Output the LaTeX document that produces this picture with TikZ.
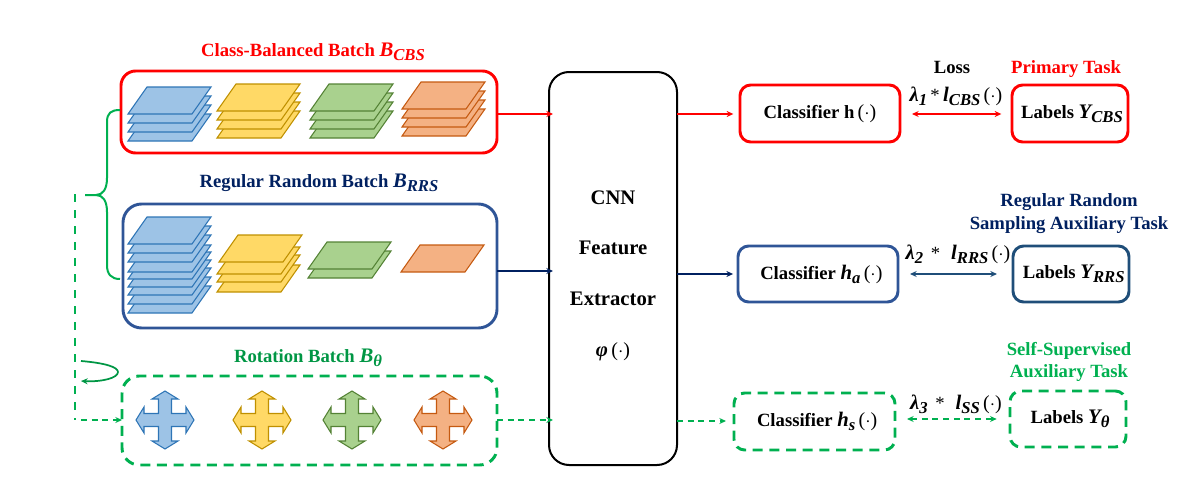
\documentclass[tikz,border=0pt]{standalone}
\usepackage{fontspec}
\setmainfont{Liberation Serif}
\usetikzlibrary{arrows.meta}
\definecolor{rd}{HTML}{FF0000}
\definecolor{navy}{HTML}{002060}
\definecolor{bbox}{HTML}{2F5597}
\definecolor{lbox}{HTML}{1F4E79}
\definecolor{grn}{HTML}{00B050}
\definecolor{bF}{HTML}{9DC3E6}\definecolor{bD}{HTML}{2E75B6}
\definecolor{yF}{HTML}{FFD966}\definecolor{yD}{HTML}{BF9000}
\definecolor{gF}{HTML}{A9D18E}\definecolor{gD}{HTML}{548235}
\definecolor{oF}{HTML}{F4B183}\definecolor{oD}{HTML}{C55A11}
\newcommand{\mi}[1]{{\fontsize{15.5}{16}\selectfont\bfseries\itshape #1}}
\newcommand{\sbx}[1]{\raisebox{-3pt}{\fontsize{12.5}{14}\selectfont\bfseries\itshape #1}}
\newcommand{\dotp}{{\fontsize{15}{16}\selectfont\mdseries\,(\raisebox{0pt}{$\cdot$})}}
\newcommand{\sheet}[4]{\draw[sheetline,draw=#4,fill=#3] (#1,#2) -- ++(19,-27) -- ++(64,0) -- ++(-19,27) -- cycle;}
\newcommand{\crossarrow}[3]{\draw[sheetline,draw=#3,fill=#2,shift={(#1,420)}]
  (-6.5,-6.5) -- (-6.5,-21) -- (-13,-21) -- (0,-29) -- (13,-21) -- (6.5,-21) -- (6.5,-6.5)
  -- (21,-6.5) -- (21,-13) -- (29,0) -- (21,13) -- (21,6.5) -- (6.5,6.5)
  -- (6.5,21) -- (13,21) -- (0,29) -- (-13,21) -- (-6.5,21) -- (-6.5,6.5)
  -- (-21,6.5) -- (-21,13) -- (-29,0) -- (-21,-13) -- (-21,-6.5) -- cycle;}
\newcommand{\boxnode}[7]{\node[#6,minimum width={(#4-#2)*0.75pt},minimum height={(#5-#3)*0.75pt}] (#1) at ({(#2+#4)/2},{(#3+#5)/2}) {#7};}
\tikzset{
  x=0.75pt,y=-0.75pt,
  sheetline/.style={line width=0.8pt,line join=miter},
  basebox/.style={rectangle,inner sep=0pt,outer sep=0pt,font=\fontsize{14}{16}\selectfont\bfseries},
  redbox/.style={basebox,draw=rd,line width=2.2pt},
  bluebox/.style={basebox,draw=bbox,line width=2.2pt},
  labbox/.style={basebox,draw=lbox,line width=2.2pt},
  greenbox/.style={basebox,draw=grn,line width=2.2pt,dash pattern=on 7.5pt off 5pt},
  cnnbox/.style={basebox,draw=black,line width=1.5pt,rounded corners=15pt,align=center,font=\fontsize{15.5}{15}\selectfont\bfseries},
  ttl/.style={inner sep=0pt,align=center,font=\fontsize{14}{17}\selectfont\bfseries},
  conn/.style={line width=1.2pt,-{Stealth[length=5pt,width=4.5pt]}},
  both/.style={line width=1.1pt,{Stealth[length=5pt,width=4.5pt]}-{Stealth[length=5pt,width=4.5pt]}},
  dashg/.style={draw=grn,dash pattern=on 4.5pt off 3.5pt},
  brace/.style={draw=grn,line width=1.5pt},
}
\begin{document}
\begin{tikzpicture}
\useasboundingbox (0,0) rectangle (1186,496);
% batches
\boxnode{cbs}{121}{71}{497}{153}{redbox,rounded corners=11pt}{}
\boxnode{rrs}{123}{204}{497}{328}{bluebox,rounded corners=14pt}{}
\boxnode{rot}{122}{376}{497}{465}{greenbox,rounded corners=13pt}{}
% sheets
\foreach \y in {141,132,123,114}{\sheet{128}{\y}{bF}{bD}}
\foreach \y in {138,129,120,111}{\sheet{217}{\y}{yF}{yD}}
\foreach \y in {138,129,120,111}{\sheet{310}{\y}{gF}{gD}}
\foreach \y in {136,127,118,109}{\sheet{402}{\y}{oF}{oD}}
\foreach \y in {313,304,295,287,279,272,262,253,244}{\sheet{128}{\y}{bF}{bD}}
\foreach \y in {292,282,274}{\sheet{217}{\y}{yF}{yD}}
\sheet{219}{262}{yF}{yD}
\foreach \y in {278,269}{\sheet{308}{\y}{gF}{gD}}
\sheet{401}{272}{oF}{oD}
\crossarrow{165}{bF}{bD}
\crossarrow{262}{yF}{yD}
\crossarrow{352}{gF}{gD}
\crossarrow{443}{oF}{oD}
% titles
\node[ttl,text=rd] (t1) at (313,52) {Class-Balanced Batch \mi{B}\sbx{CBS}};
\node[ttl,text=navy] (t2) at (319,183) {Regular Random Batch \mi{B}\sbx{RRS}};
\node[ttl,text=grn!85!black] (t3) at (308,358) {Rotation Batch \mi{B}\sbx{θ}};
% CNN
\boxnode{cnn}{549}{72}{677}{465}{cnnbox}{\rule{0pt}{21pt}CNN\\[23pt]Feature\\[23pt]Extractor\\[23pt]\mi{φ}\dotp}
% classifiers and labels
\boxnode{ca}{740}{85}{900}{142}{redbox,rounded corners=8pt}{Classifier h\dotp}
\boxnode{la}{1012}{85}{1128}{142}{redbox,rounded corners=8pt}{\kern3pt Labels \mi{Y}\sbx{CBS}}
\boxnode{cb}{738}{246}{898}{302}{bluebox,rounded corners=8pt}{\kern5pt Classifier \mi{h}\sbx{a}\dotp}
\boxnode{lb}{1013}{246}{1129}{302}{labbox,rounded corners=8pt}{\kern4pt Labels \mi{Y}\sbx{RRS}}
\boxnode{cc}{734}{393}{895}{450}{greenbox,rounded corners=8pt}{\kern4pt Classifier \mi{h}\sbx{s}\dotp}
\boxnode{lc}{1010}{391}{1126}{447}{greenbox,rounded corners=8pt}{\kern3pt Labels \mi{Y}\sbx{θ}}
% right side texts
\node[ttl] (loss) at (952,67) {Loss};
\node[ttl,text=rd] (pt) at (1066,69) {Primary Task};
\node[ttl,text=navy] (rt) at (1069,213.5) {Regular Random\\Sampling Auxiliary Task};
\node[ttl,text=grn] (st) at (1069,362) {Self-Supervised\\Auxiliary Task};
\node[ttl] (l1) at (956,96) {\mi{λ}\sbx{1}\kern-1pt{} {\mdseries *}\kern-1pt{} \mi{l}\sbx{CBS}\dotp};
\node[ttl] (l2) at (958,254) {\mi{λ}\sbx{2} \,{\mdseries *}\,\, \mi{l}\sbx{RRS}\dotp};
\node[ttl] (l3) at (956,404) {\mi{λ}\sbx{3} \,{\mdseries *}\,\, \mi{l}\sbx{SS}\dotp};
% ports
\coordinate (pa) at (553,114);
\coordinate (pb) at (553,271);
\coordinate (pc) at (553,420);
\coordinate (qa) at (677,114);
\coordinate (qb) at (677,274);
\coordinate (qc) at (677,421);
\coordinate (lc end) at (726,421);
% connectors
\draw[conn,draw=rd,-{Stealth[length=5pt,width=4.5pt,color=rd]}] (cbs.east |- pa) -- (pa);
\draw[conn,draw=navy,-{Stealth[length=5pt,width=4.5pt,color=navy]}] (rrs.east |- pb) -- (pb);
\draw[conn,dashg,-{Stealth[length=5pt,width=4.5pt,color=grn]}] (rot.east |- pc) -- (pc);
\draw[conn,draw=rd,-{Stealth[length=5pt,width=4.5pt,color=rd]}] (qa) -- ([xshift=-5pt]ca.west |- qa);
\draw[conn,draw=navy,-{Stealth[length=5pt,width=4.5pt,color=navy]}] (qb) -- ([xshift=-3.7pt]cb.west);
\draw[conn,dashg,-{Stealth[length=5pt,width=4.5pt,color=grn]}] (qc) -- (lc end);
\draw[both,draw=rd] ([xshift=9pt]ca.east |- qa) -- ([xshift=-8pt]la.west |- qa);
\draw[both,draw=lbox] ([xshift=9pt]cb.east) -- ([xshift=-12pt]lb.west);
\draw[both,dashg] ([xshift=9pt]cc.east |- lc.west) -- ([xshift=-10pt]lc.west);
% brace
\coordinate (bt) at (120,110);
\coordinate (bb) at (120,279);
\coordinate (btip) at (85,195);
\draw[brace] (bt) .. controls (111,110) and (107,113) .. (107,122) -- (107,178)
  .. controls (107,189) and (103,195) .. (96,195) -- (btip);
\draw[brace] (96,195) .. controls (103,195) and (107,201) .. (107,212) -- (107,265)
  .. controls (107,274) and (111,279) .. (bb);
% dashed feedback
\coordinate (ds) at (75,194);
\coordinate (dc) at (75,420);
\draw[line width=1.5pt,dashg,dash pattern=on 6pt off 6pt] (ds) -- (dc);
\draw[conn,dashg,-{Stealth[length=5pt,width=4.5pt,color=grn]}] (81,420) -- (rot.west |- dc);
% loop arrow
\coordinate (la1) at (81,361);
\coordinate (la2) at (81,381);
\draw[line width=1.3pt,draw=grn!85!black,-{Stealth[length=5pt,width=4.5pt]}] (la1) .. controls (105,363) and (118,367) .. (118,372)
  .. controls (118,378) and (102,382) .. (la2);
\end{tikzpicture}
\end{document}
